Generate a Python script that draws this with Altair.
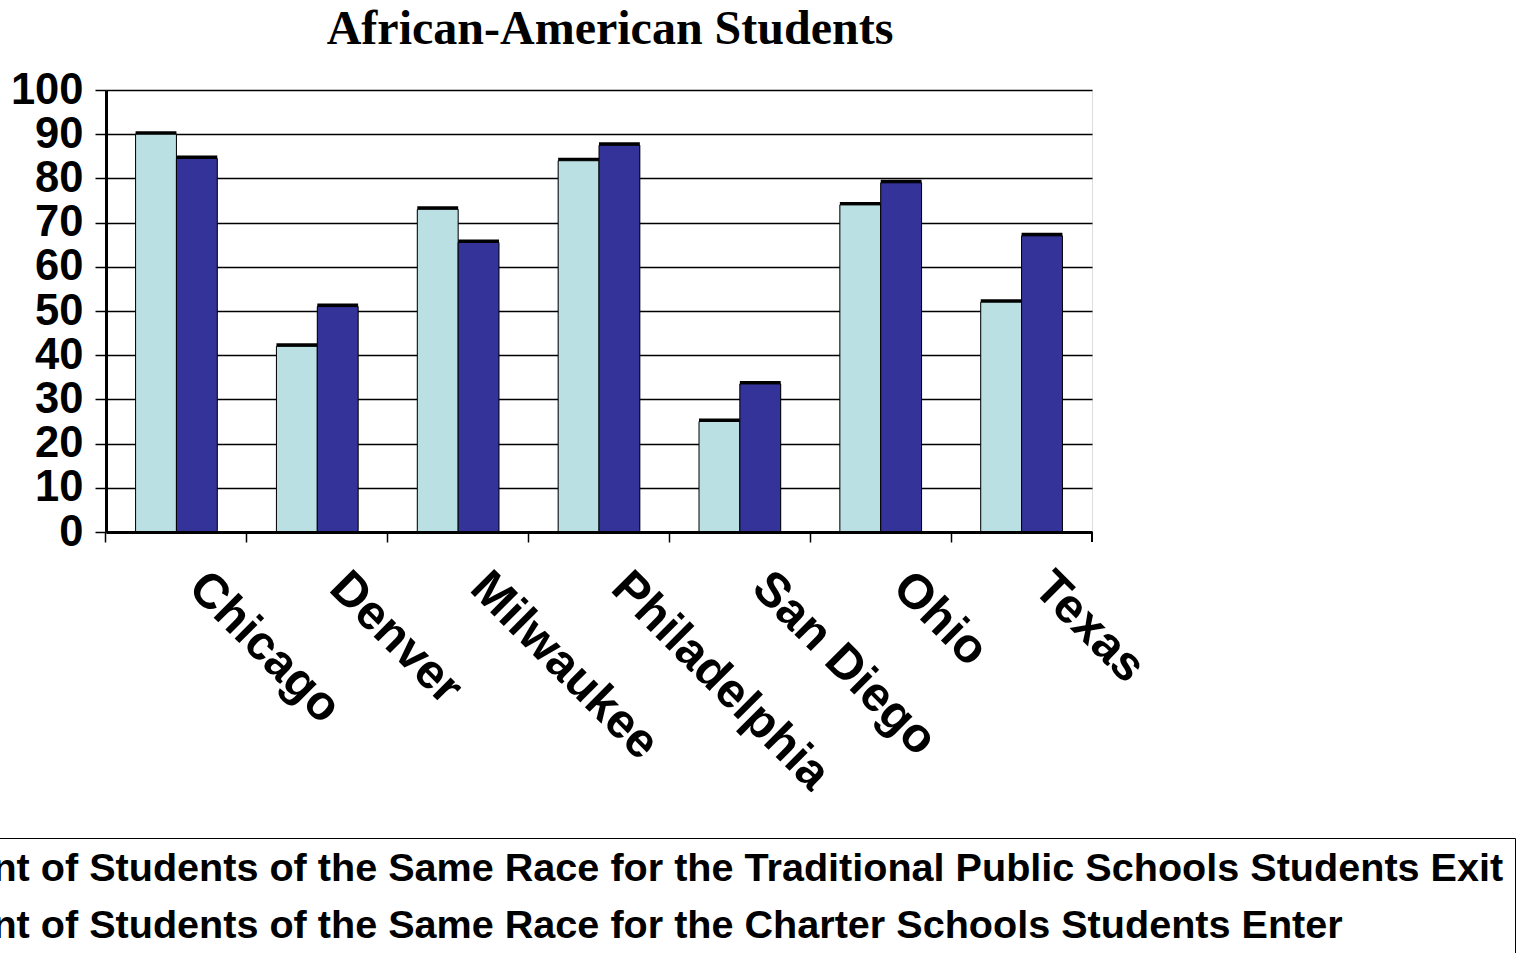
import altair as alt
import pandas as pd

# Share of same-race students, by city/state
cities = ["Chicago", "Denver", "Milwaukee", "Philadelphia", "San Diego", "Ohio", "Texas"]
exit_pct = [90, 42, 73, 84, 25, 74, 52]
enter_pct = [84.5, 51, 65.5, 87.5, 33.5, 79, 67]
series = [
    "Percent of Students of the Same Race for the Traditional Public Schools Students Exit",
    "Percent of Students of the Same Race for the Charter Schools Students Enter",
]
colors = ["#BBE0E3", "#333399"]
y_ticks = list(range(0, 101, 10))

rows = []
for city, a, b in zip(cities, exit_pct, enter_pct):
    rows.append({"city": city, "series": series[0], "value": a})
    rows.append({"city": city, "series": series[1], "value": b})
df = pd.DataFrame(rows)

SANS = "Arial, Liberation Sans, sans-serif"
SERIF = "Times New Roman, Liberation Serif, serif"

PAD_IN, PAD_OUT = 0.42, 0.21
# put category ticks on the step boundaries rather than the band starts
tick_pos = -PAD_OUT / (1 - PAD_IN)

x_enc = alt.X(
    "city:N",
    sort=cities,
    scale=alt.Scale(paddingInner=PAD_IN, paddingOuter=PAD_OUT),
    axis=alt.Axis(
        title=None,
        bandPosition=tick_pos,
        ticks=True,
        tickSize=10,
        tickWidth=1.5,
        tickColor="black",
        domainColor="black",
        domainWidth=3,
        labelAngle=45,
        labelAlign="left",
        labelBaseline="top",
        labelOffset=37,
        labelPadding=21,
        labelFont=SANS,
        labelFontSize=48.5,
        labelFontWeight="bold",
        labelColor="black",
        labelLimit=1000,
        labelOverlap=False,
        zindex=1,
    ),
)
xo_enc = alt.XOffset("series:N", sort=series, scale=alt.Scale(paddingInner=0, paddingOuter=0))
y_enc = alt.Y(
    "value:Q",
    scale=alt.Scale(domain=[0, 100], nice=False, zero=True),
    axis=alt.Axis(
        title=None,
        values=y_ticks,
        grid=True,
        gridColor="black",
        gridWidth=1.3,
        domainColor="black",
        domainWidth=3,
        tickColor="black",
        tickWidth=1.5,
        tickSize=11,
        labelFont=SANS,
        labelFontSize=43.5,
        labelFontWeight="bold",
        labelColor="black",
        labelPadding=12,
        labelOverlap=False,
        labelFlush=False,
    ),
)

# dark offset copy behind each column for the raised look
shadow = alt.Chart(df).mark_bar(color="black", xOffset=3, yOffset=-3).encode(
    x=x_enc, xOffset=xo_enc, y=y_enc
)

bars = alt.Chart(df).mark_bar(stroke="black", strokeWidth=1).encode(
    x=x_enc,
    xOffset=xo_enc,
    y=y_enc,
    color=alt.Color(
        "series:N",
        sort=series,
        scale=alt.Scale(domain=series, range=colors),
        legend=alt.Legend(
            title=None,
            orient="none",
            legendX=-282,
            legendY=748,
            direction="vertical",
            labelFont=SANS,
            labelFontSize=39.6,
            labelFontWeight="bold",
            labelColor="black",
            labelLimit=3000,
            labelOffset=10,
            symbolType="square",
            symbolSize=400,
            symbolStrokeColor="black",
            symbolStrokeWidth=1,
            strokeColor="black",
            fillColor="white",
            padding=11,
            rowPadding=16,
        ),
    ),
)

# closing tick at the right end of the category axis
end_tick = alt.Chart(df).mark_rule(color="black", strokeWidth=1.5).encode(
    x=alt.value(986), y=alt.value(442), y2=alt.value(452)
)

chart = (
    alt.layer(shadow, bars, end_tick)
    .properties(
        width=986,
        height=442,
        title=alt.TitleParams(
            "African-American Students",
            font=SERIF,
            fontSize=48,
            fontWeight="bold",
            color="black",
            anchor="middle",
            frame="group",
            dx=11,
            dy=-10,
        ),
        autosize=alt.AutoSizeParams(type="none"),
        padding={"left": 106, "top": 90, "right": 435, "bottom": 421},
    )
    .configure_view(stroke="black", strokeWidth=1.5)
    .configure(background="white")
)

chart.save("out.html", embed_options={"renderer": "svg", "actions": False})
